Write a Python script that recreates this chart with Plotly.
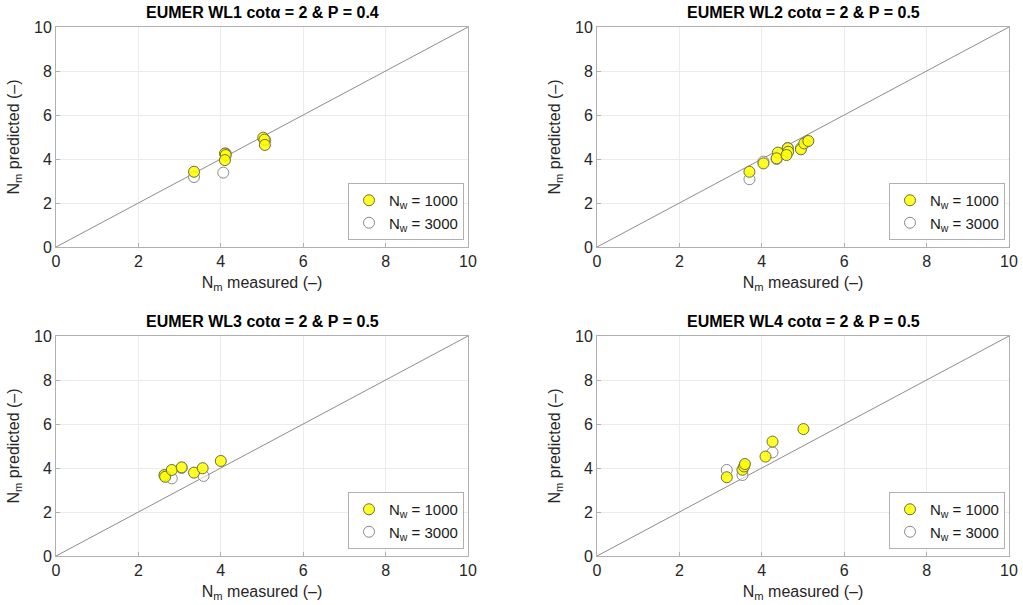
import plotly.graph_objects as go

titles = ["EUMER WL1 cot\u03b1 = 2 & P = 0.4", "EUMER WL2 cot\u03b1 = 2 & P = 0.5",
          "EUMER WL3 cot\u03b1 = 2 & P = 0.5", "EUMER WL4 cot\u03b1 = 2 & P = 0.5"]

wl1_x_1000 = [3.35, 4.10, 4.12, 4.10, 5.03, 5.06, 5.07]
wl1_y_1000 = [3.42, 4.25, 4.18, 3.95, 4.97, 4.88, 4.64]
wl1_x_3000 = [3.35, 4.06, 4.12, 5.08]
wl1_y_3000 = [3.18, 3.38, 4.25, 4.85]

wl2_x_1000 = [3.70, 4.04, 4.39, 4.36, 4.63, 4.64, 4.60, 4.95, 5.03, 5.13]
wl2_y_1000 = [3.42, 3.80, 4.29, 4.03, 4.49, 4.33, 4.18, 4.44, 4.71, 4.82]
wl2_x_3000 = [3.70, 4.04, 4.36, 4.63, 4.95, 5.10]
wl2_y_3000 = [3.08, 3.88, 4.00, 4.50, 4.50, 4.80]

wl3_x_1000 = [2.63, 2.65, 2.81, 3.05, 3.35, 3.56, 4.00]
wl3_y_1000 = [3.68, 3.60, 3.91, 4.03, 3.79, 3.99, 4.32]
wl3_x_3000 = [2.65, 2.81, 3.05, 3.58]
wl3_y_3000 = [3.65, 3.53, 4.00, 3.64]

wl4_x_1000 = [3.15, 3.53, 3.57, 3.59, 4.09, 4.26, 5.01]
wl4_y_1000 = [3.58, 3.92, 4.07, 4.18, 4.52, 5.20, 5.77]
wl4_x_3000 = [3.15, 3.53, 4.26]
wl4_y_3000 = [3.91, 3.68, 4.71]

data = [(wl1_x_1000, wl1_y_1000, wl1_x_3000, wl1_y_3000),
        (wl2_x_1000, wl2_y_1000, wl2_x_3000, wl2_y_3000),
        (wl3_x_1000, wl3_y_1000, wl3_x_3000, wl3_y_3000),
        (wl4_x_1000, wl4_y_1000, wl4_x_3000, wl4_y_3000)]

ticks = [0, 2, 4, 6, 8, 10]
W, H = 1023, 605
xdoms = [[56 / W, 468 / W], [597 / W, 1009 / W]]
ydoms = [[1 - 247 / H, 1 - 27 / H], [1 - 556 / H, 1 - 336 / H]]

FONT = "Liberation Sans, Arial, Helvetica, sans-serif"
fig = go.Figure()
layout = dict(width=W, height=H, margin=dict(l=0, r=0, t=0, b=0, autoexpand=False),
              paper_bgcolor="white", plot_bgcolor="white",
              font=dict(family=FONT, size=15, color="#262626"))
annotations = []

for i in range(4):
    r, c = divmod(i, 2)
    n = i + 1
    xa = "x" if n == 1 else f"x{n}"
    ya = "y" if n == 1 else f"y{n}"
    lg = "legend" if n == 1 else f"legend{n}"
    x1, y1, x3, y3 = data[i]
    fig.add_trace(go.Scatter(x=[0, 10], y=[0, 10], mode="lines",
                             line=dict(color="#8c8c8c", width=1),
                             showlegend=False, xaxis=xa, yaxis=ya, hoverinfo="skip"))
    fig.add_trace(go.Scatter(x=x3, y=y3, mode="markers", name="N<sub>w</sub> = 3000",
                             marker=dict(size=11, color="rgba(255,255,255,0.6)",
                                         line=dict(color="#8a8a8a", width=1)),
                             xaxis=xa, yaxis=ya, legend=lg, legendrank=2))
    fig.add_trace(go.Scatter(x=x1, y=y1, mode="markers", name="N<sub>w</sub> = 1000",
                             marker=dict(size=11, color="rgba(255,255,0,0.85)",
                                         line=dict(color="#6e6e40", width=1)),
                             xaxis=xa, yaxis=ya, legend=lg, legendrank=1))
    axcommon = dict(range=[0, 10], tickvals=ticks, showgrid=True, gridcolor="#ebebeb",
                    gridwidth=1, zeroline=False, showline=True, linecolor="#b0b0b0",
                    linewidth=1, mirror=True, ticks="inside", ticklen=4, automargin=False,
                    tickcolor="#b0b0b0", tickfont=dict(size=16, color="#262626"))
    xkey = "xaxis" if n == 1 else f"xaxis{n}"
    ykey = "yaxis" if n == 1 else f"yaxis{n}"
    layout[xkey] = dict(axcommon, domain=xdoms[c], anchor=ya,
                        title=dict(text="N<sub>m</sub> measured (\u2013)", font=dict(size=16), standoff=7))
    layout[ykey] = dict(axcommon, domain=ydoms[r], anchor=xa,
                        title=dict(text="N<sub>m</sub> predicted (\u2013)", font=dict(size=16), standoff=10))
    layout[lg] = dict(x=xdoms[c][1] - 4 / W, y=ydoms[r][0] + 7 / H, xanchor="right", yanchor="bottom",
                      bgcolor="white", bordercolor="#b0b0b0", borderwidth=1,
                      font=dict(size=15, color="#1a1a1a"), traceorder="normal",
                      itemwidth=30, tracegroupgap=0)
    annotations.append(dict(text="<b>" + titles[i] + "</b>", xref="paper", yref="paper",
                            x=(xdoms[c][0] + xdoms[c][1]) / 2, y=ydoms[r][1] + 4 / H,
                            xanchor="center", yanchor="bottom", showarrow=False,
                            font=dict(size=16, color="#000000")))

layout["annotations"] = annotations
fig.update_layout(**layout)
fig.write_html("out.html")
